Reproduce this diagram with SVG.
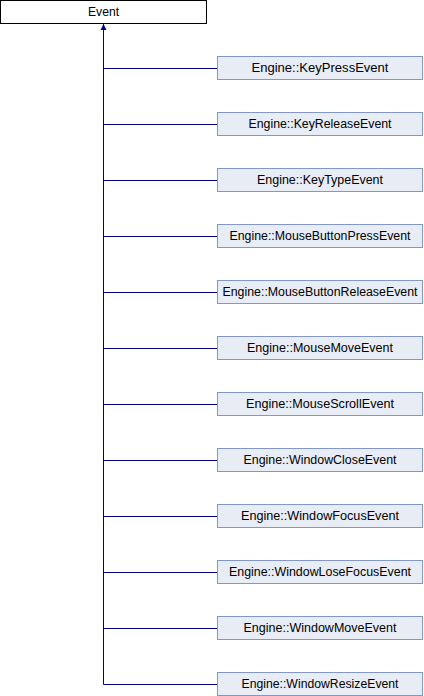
<svg xmlns="http://www.w3.org/2000/svg" width="424" height="696" viewBox="0 0 424 696">
<style>
.base rect{fill:#ffffff;stroke:#000000;stroke-width:1}
.cls rect{fill:#e8ecf5;stroke:#8497c9;stroke-width:1}
text{font-family:"Liberation Sans",Arial,sans-serif;font-size:12px;fill:#000000;text-anchor:middle}
.edge{fill:none;stroke:#000080;stroke-width:1}
</style>
<defs>
<marker id="arr" viewBox="0 0 10 10" refX="10" refY="5" markerWidth="6" markerHeight="7" orient="auto" markerUnits="userSpaceOnUse">
<path d="M0,0 L10,5 L0,10 z" fill="#000080"/>
</marker>
</defs>
<g id="connectors">
<path class="edge" d="M103.5,684.5 V24" marker-end="url(#arr)"/>
<path class="edge" d="M103.5,68.5 H217"/>
<path class="edge" d="M103.5,124.5 H217"/>
<path class="edge" d="M103.5,180.5 H217"/>
<path class="edge" d="M103.5,236.5 H217"/>
<path class="edge" d="M103.5,292.5 H217"/>
<path class="edge" d="M103.5,348.5 H217"/>
<path class="edge" d="M103.5,404.5 H217"/>
<path class="edge" d="M103.5,460.5 H217"/>
<path class="edge" d="M103.5,516.5 H217"/>
<path class="edge" d="M103.5,572.5 H217"/>
<path class="edge" d="M103.5,628.5 H217"/>
<path class="edge" d="M103.5,684.5 H217"/>
</g>
<g id="Event" class="base"><rect x="0.5" y="0.5" width="206" height="23"/><text x="103.5" y="16" textLength="31" lengthAdjust="spacingAndGlyphs">Event</text></g>
<g id="KeyPressEvent" class="cls"><rect x="217.5" y="56.5" width="205" height="23"/><text x="320" y="72" textLength="137" lengthAdjust="spacingAndGlyphs">Engine::KeyPressEvent</text></g>
<g id="KeyReleaseEvent" class="cls"><rect x="217.5" y="112.5" width="205" height="23"/><text x="320" y="128" textLength="143" lengthAdjust="spacingAndGlyphs">Engine::KeyReleaseEvent</text></g>
<g id="KeyTypeEvent" class="cls"><rect x="217.5" y="168.5" width="205" height="23"/><text x="320" y="184" textLength="126" lengthAdjust="spacingAndGlyphs">Engine::KeyTypeEvent</text></g>
<g id="MouseButtonPressEvent" class="cls"><rect x="217.5" y="224.5" width="205" height="23"/><text x="320" y="240" textLength="181" lengthAdjust="spacingAndGlyphs">Engine::MouseButtonPressEvent</text></g>
<g id="MouseButtonReleaseEvent" class="cls"><rect x="217.5" y="280.5" width="205" height="23"/><text x="320" y="296" textLength="195" lengthAdjust="spacingAndGlyphs">Engine::MouseButtonReleaseEvent</text></g>
<g id="MouseMoveEvent" class="cls"><rect x="217.5" y="336.5" width="205" height="23"/><text x="320" y="352" textLength="146" lengthAdjust="spacingAndGlyphs">Engine::MouseMoveEvent</text></g>
<g id="MouseScrollEvent" class="cls"><rect x="217.5" y="392.5" width="205" height="23"/><text x="320" y="408" textLength="148" lengthAdjust="spacingAndGlyphs">Engine::MouseScrollEvent</text></g>
<g id="WindowCloseEvent" class="cls"><rect x="217.5" y="448.5" width="205" height="23"/><text x="320" y="464" textLength="153" lengthAdjust="spacingAndGlyphs">Engine::WindowCloseEvent</text></g>
<g id="WindowFocusEvent" class="cls"><rect x="217.5" y="504.5" width="205" height="23"/><text x="320" y="520" textLength="158" lengthAdjust="spacingAndGlyphs">Engine::WindowFocusEvent</text></g>
<g id="WindowLoseFocusEvent" class="cls"><rect x="217.5" y="560.5" width="205" height="23"/><text x="320" y="576" textLength="182" lengthAdjust="spacingAndGlyphs">Engine::WindowLoseFocusEvent</text></g>
<g id="WindowMoveEvent" class="cls"><rect x="217.5" y="616.5" width="205" height="23"/><text x="320" y="632" textLength="153" lengthAdjust="spacingAndGlyphs">Engine::WindowMoveEvent</text></g>
<g id="WindowResizeEvent" class="cls"><rect x="217.5" y="672.5" width="205" height="23"/><text x="320" y="688" textLength="157" lengthAdjust="spacingAndGlyphs">Engine::WindowResizeEvent</text></g>
</svg>
